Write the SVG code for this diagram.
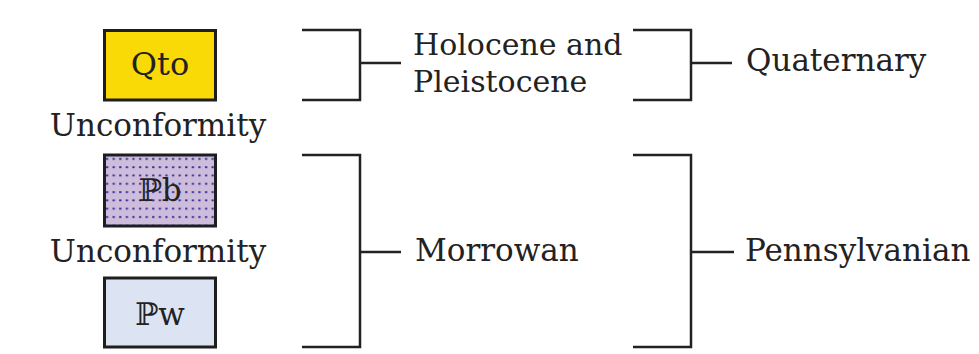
<svg xmlns="http://www.w3.org/2000/svg" width="979" height="354" viewBox="0 0 979 354">
<defs>
<pattern id="dots" x="104" y="155" width="6.6" height="8.3" patternUnits="userSpaceOnUse">
<rect x="2" y="3" width="2.2" height="1.8" fill="#2a2590"/>
</pattern>
<style>
text{font-family:"DejaVu Serif","Liberation Serif",serif;font-size:31px;fill:#222}
.c{text-anchor:middle}
.box{stroke:#1e1e1e;stroke-width:3}
.br{fill:none;stroke:#222;stroke-width:2.5}
</style>
</defs>
<rect width="979" height="354" fill="#fff"/>
<g id="qto">
<rect class="box" x="104.5" y="30.5" width="111" height="69.5" fill="#f9da06"/>
<text class="c" x="160" y="75" style="font-size:32px">Qto</text>
</g>
<g id="unconformity1"><text class="c" x="158" y="136">Unconformity</text></g>
<g id="pb">
<rect class="box" x="104.5" y="155" width="111" height="71" fill="#cdbcdb"/>
<rect x="106" y="156.5" width="108" height="68" fill="url(#dots)"/>
<text class="c" x="160" y="201">ℙb</text>
</g>
<g id="unconformity2"><text class="c" x="158" y="262">Unconformity</text></g>
<g id="pw">
<rect class="box" x="104.5" y="278" width="111" height="69" fill="#dce3f3"/>
<text class="c" x="160" y="325">ℙw</text>
</g>
<g id="connectors">
<path class="br" d="M302 30H360V100H302M360 63H401"/>
<path class="br" d="M633 30H691V100H633M691 63H732"/>
<path class="br" d="M302 155H360V347H302M360 252H401"/>
<path class="br" d="M633 155H691V347H633M691 252H734"/>
</g>
<g id="holocene" style="font-size:30px"><text x="413" y="55" style="font-size:30px">Holocene and</text><text x="413" y="92" style="font-size:30px">Pleistocene</text></g>
<g id="quaternary"><text x="746" y="71">Quaternary</text></g>
<g id="morrowan"><text x="415" y="261">Morrowan</text></g>
<g id="pennsylvanian"><text x="745" y="261">Pennsylvanian</text></g>
</svg>
